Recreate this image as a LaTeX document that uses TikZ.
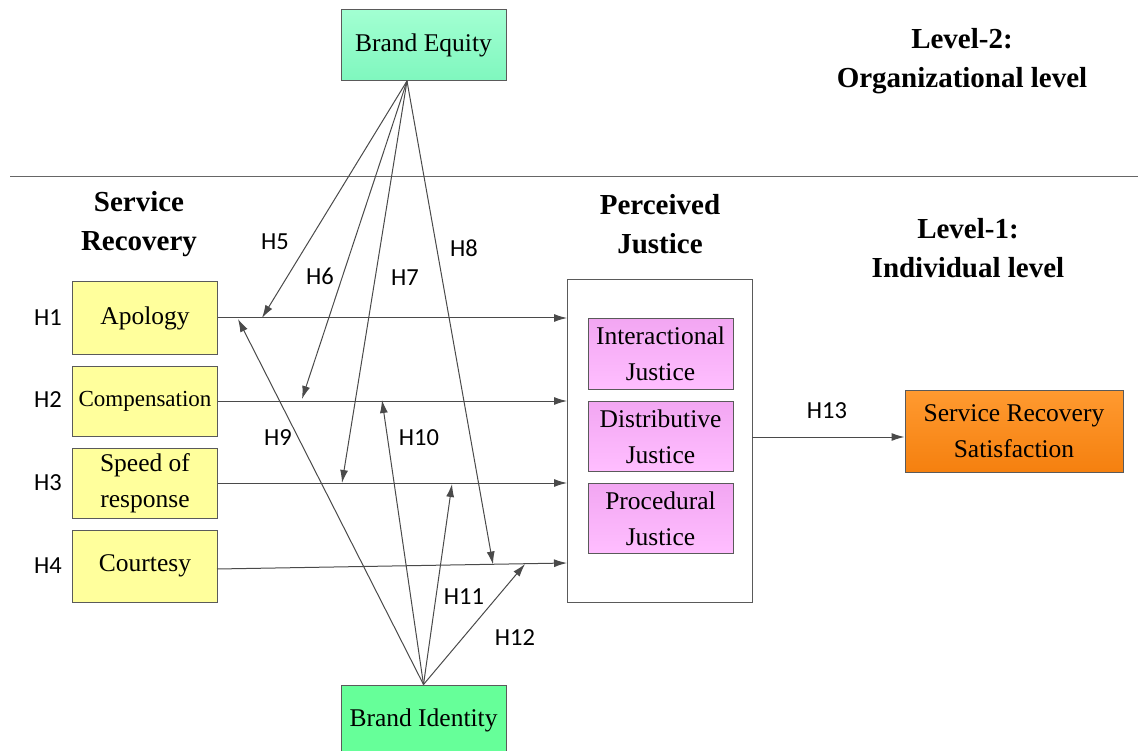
\documentclass[tikz,border=0pt]{standalone}
\usepackage{fontspec}
\setmainfont{Liberation Serif}
\newfontfamily\hfont{Carlito}
\usetikzlibrary{arrows.meta,calc}
\definecolor{lineg}{HTML}{4A4A4A}
\definecolor{boxg}{HTML}{5A5A5A}
\definecolor{eqtop}{HTML}{A2FFD2}
\definecolor{eqbot}{HTML}{7FF7BE}
\definecolor{idgreen}{HTML}{66FF99}
\definecolor{yel}{HTML}{FFFF9C}
\definecolor{pinktop}{HTML}{F2A6F2}
\definecolor{pinkbot}{HTML}{FFBEFF}
\definecolor{ortop}{HTML}{FF9A30}
\definecolor{orbot}{HTML}{F5800F}
\begin{document}
\begin{tikzpicture}[x=1pt,y=-1pt,
  box/.style={draw=boxg, line width=1pt, align=center, inner sep=0pt,
    font=\fontsize{25.5}{36}\selectfont},
  ybox/.style={box, fill=yel, minimum width=145pt},
  pbox/.style={box, top color=pinktop, bottom color=pinkbot, minimum width=145pt, minimum height=70pt},
  arr/.style={draw=lineg, line width=1pt, -{Latex[length=13pt,width=8pt]}},
  hl/.style={font=\hfont\fontsize{24.5}{28}\selectfont, inner sep=0pt},
  ttl/.style={font=\bfseries\fontsize{29}{39}\selectfont, align=center, inner sep=0pt}]
\useasboundingbox (0,0) rectangle (1138,751);

% separator
\draw[draw=black!60, line width=1pt] (10,177) -- (1138,177);

% titles
\node[ttl] (t2) at (962,61) {Level-2:\\Organizational level};
\node[ttl] (t1) at (968,248) {Level-1:\\Individual level};
\node[ttl] (tsr) at (139,224) {Service\\Recovery};
\node[ttl] (tpj) at (660,224) {Perceived\\Justice};

% brand boxes
\node[box, top color=eqtop, bottom color=eqbot, minimum width=165pt, minimum height=71pt] (be) at (423.5,45.5) {Brand Equity};
\node[box, fill=idgreen, minimum width=165pt, minimum height=70pt] (bi) at (423.5,720) {Brand Identity};

% service recovery boxes
\node[ybox, minimum height=72pt] (apo) at (145,318) {Apology};
\node[ybox, minimum height=70pt, font=\fontsize{23}{30}\selectfont] (com) at (145,401) {Compensation};
\node[ybox, minimum height=70pt] (spd) at (145,483) {Speed of\\response};
\node[ybox, minimum height=72pt] (cou) at (145,566) {Courtesy};

% perceived justice
\node[draw=boxg, line width=1pt, fill=white, minimum width=185pt, minimum height=322pt, inner sep=0pt] (pj) at (660,441) {};
\node[pbox] (ij) at (660.5,354) {Interactional\\Justice};
\node[pbox] (dj) at (660.5,436.5) {Distributive\\Justice};
\node[pbox] (prj) at (660.5,518.5) {Procedural\\Justice};

% outcome
\node[box, top color=ortop, bottom color=orbot, minimum width=218pt, minimum height=82pt] (srs) at (1014,431) {Service Recovery\\Satisfaction};

% hypothesis labels
\node[hl] (l1) at (48,318) {H1};
\node[hl] (l2) at (48,400) {H2};
\node[hl] (l3) at (48,483) {H3};
\node[hl] (l4) at (48,566) {H4};
\node[hl] (l5) at (275,242) {H5};
\node[hl] (l6) at (320,276) {H6};
\node[hl] (l7) at (405,278) {H7};
\node[hl] (l8) at (464,248) {H8};
\node[hl] (l9) at (278,438) {H9};
\node[hl] (l10) at (419,438) {H10};
\node[hl] (l11) at (464,597) {H11};
\node[hl] (l12) at (515,638) {H12};
\node[hl] (l13) at (827,411) {H13};

% coordinates
\coordinate (eqap) at (407,81);
\coordinate (c4s) at (217,569);
\coordinate (c4e) at (567,563);
\coordinate (h5) at (262,318);
\coordinate (h6) at (302,399);
\coordinate (h7) at (342,483);
\coordinate (h8) at (493,564.5);
\coordinate (h9) at (238,319);
\coordinate (h10) at (382,400);
\coordinate (h11) at (452,484);
\coordinate (h12) at (525,564);
\coordinate (pjo) at (752,437);

% main paths
\draw[arr] (apo.east) -- (apo.east -| pj.west);
\draw[arr] (com.east) -- (com.east -| pj.west);
\draw[arr] (spd.east) -- (spd.east -| pj.west);
\draw[arr] (c4s) -- (c4e);
\draw[arr] (pjo) -- (pjo -| srs.west);

% brand equity moderation
\draw[arr] (eqap) -- (h5);
\draw[arr] (eqap) -- (h6);
\draw[arr] (eqap) -- (h7);
\draw[arr] (eqap) -- (h8);

% brand identity moderation
\draw[arr] (bi.north) -- (h9);
\draw[arr] (bi.north) -- (h10);
\draw[arr] (bi.north) -- (h11);
\draw[arr] (bi.north) -- (h12);
\end{tikzpicture}
\end{document}
